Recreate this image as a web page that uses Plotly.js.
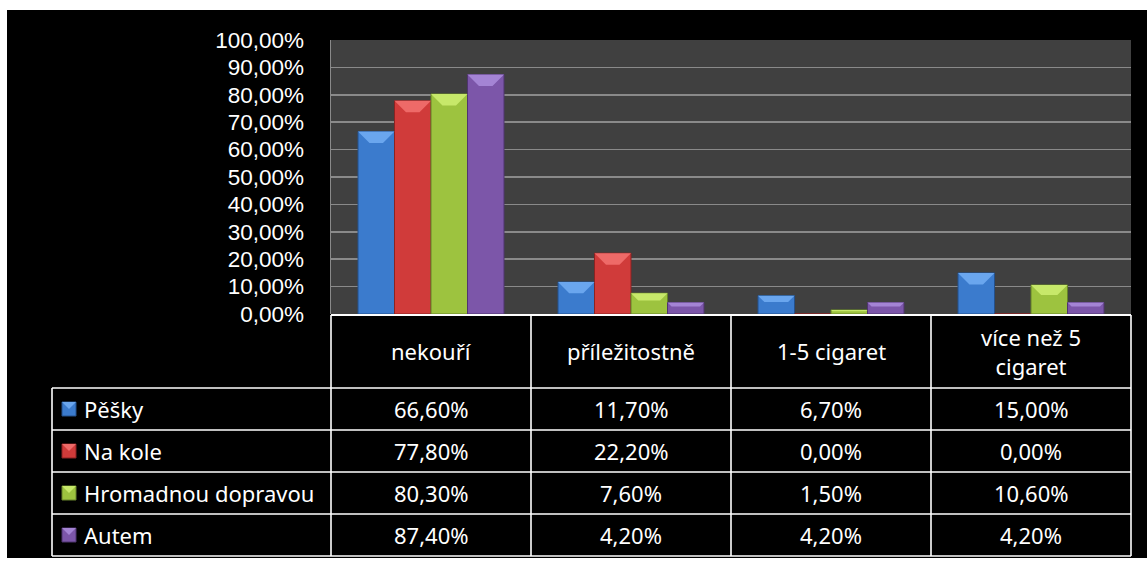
<!DOCTYPE html>
<html>
<head>
<meta charset="utf-8">
<script src="https://cdn.plot.ly/plotly-3.0.1.min.js"></script>
<style>
  html, body { margin: 0; padding: 0; background: #ffffff; width: 1147px; height: 561px; overflow: hidden; }
  #chart { position: absolute; left: 7px; top: 10px; width: 1140px; height: 548px; }
</style>
</head>
<body>
<div id="chart"></div>
<script>
// Smoking habits by mode of travel (values in percent)
const categories = ['nekouří', 'příležitostně', '1-5 cigaret', 'více než 5<br>cigaret'];
const seriesNames = ['Pěšky', 'Na kole', 'Hromadnou dopravou', 'Autem'];
const pesky = [66.6, 11.7, 6.7, 15.0];
const naKole = [77.8, 22.2, 0.0, 0.0];
const hromadnou = [80.3, 7.6, 1.5, 10.6];
const autem = [87.4, 4.2, 4.2, 4.2];
const yTicks = [0, 10, 20, 30, 40, 50, 60, 70, 80, 90, 100];

const seriesValues = [pesky, naKole, hromadnou, autem];
const baseColors = ['#3b7bcd', '#d03b3a', '#9dc33f', '#7c56a9'];
const capColors = ['#6aa6ee', '#ee6a68', '#c7e86a', '#a484d4'];
const edgeColors = ['#24508a', '#8a2322', '#66822a', '#4f346f'];

const plotW = 800, plotH = 274;     // plot area in px
const groupW = 0.73, barW = groupW / 4;
const xIdx = categories.map((_, i) => i);

const fmt = v => v.toFixed(2).replace('.', ',') + '%';

const traces = [];
seriesValues.forEach((vals, k) => {
  const off = -groupW / 2 + k * barW;
  traces.push({
    type: 'bar', x: xIdx, y: vals, name: seriesNames[k],
    width: barW, offset: off,
    marker: { color: baseColors[k], line: { color: edgeColors[k], width: 1 } },
    hoverinfo: 'skip'
  });
});

// bevelled top caps on each bar, derived from the bar values
seriesValues.forEach((vals, k) => {
  const cx = [], cy = [];
  vals.forEach((v, i) => {
    if (v <= 0) return;
    const L = i - groupW / 2 + k * barW, R = L + barW;
    const h = Math.min(4.2, v * 0.35);
    const dx = (h / 100 * plotH) / (plotW / 4);
    cx.push(L, R, R - dx, L + dx, L, null);
    cy.push(v, v, v - h, v - h, v, null);
  });
  traces.push({
    type: 'scatter', mode: 'lines', x: cx, y: cy, fill: 'toself',
    fillcolor: capColors[k], line: { width: 0, color: capColors[k] },
    showlegend: false, hoverinfo: 'skip'
  });
});

// data table below the plot (paper coordinates relative to the plot area)
const px = X => (X - 331) / plotW;
const py = Y => (314 - Y) / plotH;
const colEdges = [331, 531, 731, 931, 1131];
const legendLeft = 52;
const rowEdges = [388, 430, 472, 514, 556];
const lineStyle = { color: '#ffffff', width: 1.6 };

const shapes = [];
// header top and verticals
shapes.push({ type: 'line', xref: 'paper', yref: 'paper', x0: px(331), x1: px(1131), y0: py(315), y1: py(315), line: { color: '#ffffff', width: 2 } });
colEdges.forEach(X => {
  shapes.push({ type: 'line', xref: 'paper', yref: 'paper', x0: px(X), x1: px(X), y0: py(315), y1: py(556), line: lineStyle });
});
shapes.push({ type: 'line', xref: 'paper', yref: 'paper', x0: px(legendLeft), x1: px(legendLeft), y0: py(388), y1: py(556), line: lineStyle });
rowEdges.forEach(Y => {
  shapes.push({ type: 'line', xref: 'paper', yref: 'paper', x0: px(legendLeft), x1: px(1131), y0: py(Y), y1: py(Y), line: lineStyle });
});

const annotations = [];
const txtFont = { family: 'Noto Sans, Open Sans, sans-serif', size: 22, color: '#ffffff' };
categories.forEach((c, i) => {
  annotations.push({
    xref: 'paper', yref: 'paper', x: px((colEdges[i] + colEdges[i + 1]) / 2), y: py(351),
    text: c, showarrow: false, xanchor: 'center', yanchor: 'middle', font: txtFont, align: 'center'
  });
});
seriesValues.forEach((vals, k) => {
  const yc = (rowEdges[k] + rowEdges[k + 1]) / 2;
  // legend key
  shapes.push({ type: 'rect', xref: 'paper', yref: 'paper', x0: px(62), x1: px(76), y0: py(yc - 7), y1: py(yc + 7),
    fillcolor: baseColors[k], line: { color: edgeColors[k], width: 1 } });
  shapes.push({ type: 'path', xref: 'paper', yref: 'paper',
    path: `M ${px(62)} ${py(yc - 7)} L ${px(76)} ${py(yc - 7)} L ${px(69)} ${py(yc)} Z`,
    fillcolor: capColors[k], line: { width: 0 } });
  annotations.push({
    xref: 'paper', yref: 'paper', x: px(82), y: py(yc), text: seriesNames[k], showarrow: false,
    xanchor: 'left', yanchor: 'middle', font: txtFont
  });
  vals.forEach((v, i) => {
    annotations.push({
      xref: 'paper', yref: 'paper', x: px((colEdges[i] + colEdges[i + 1]) / 2), y: py(yc),
      text: fmt(v), showarrow: false, xanchor: 'center', yanchor: 'middle', font: txtFont
    });
  });
});

const layout = {
  width: 1140, height: 548,
  margin: { l: 324, r: 16, t: 30, b: 244, pad: 0 },
  paper_bgcolor: '#000000', plot_bgcolor: '#404040',
  separators: ', ',
  showlegend: false,
  barmode: 'group',
  xaxis: { range: [-0.5, 3.5], showticklabels: false, showgrid: false, zeroline: false, fixedrange: true },
  yaxis: {
    range: [0, 100], tickmode: 'array', tickvals: yTicks, ticktext: yTicks.map(fmt),
    showgrid: true, gridcolor: '#8a8a8a', gridwidth: 1.5, zeroline: false,
    showline: true, linecolor: '#8a8a8a', linewidth: 1.5,
    ticks: '', ticklabelstandoff: 21,
    tickfont: { family: 'Liberation Sans, Arial, sans-serif', size: 22.5, color: '#ffffff' }
  },
  shapes: shapes,
  annotations: annotations
};

Plotly.newPlot('chart', traces, layout, { staticPlot: true, displayModeBar: false });
</script>
</body>
</html>
